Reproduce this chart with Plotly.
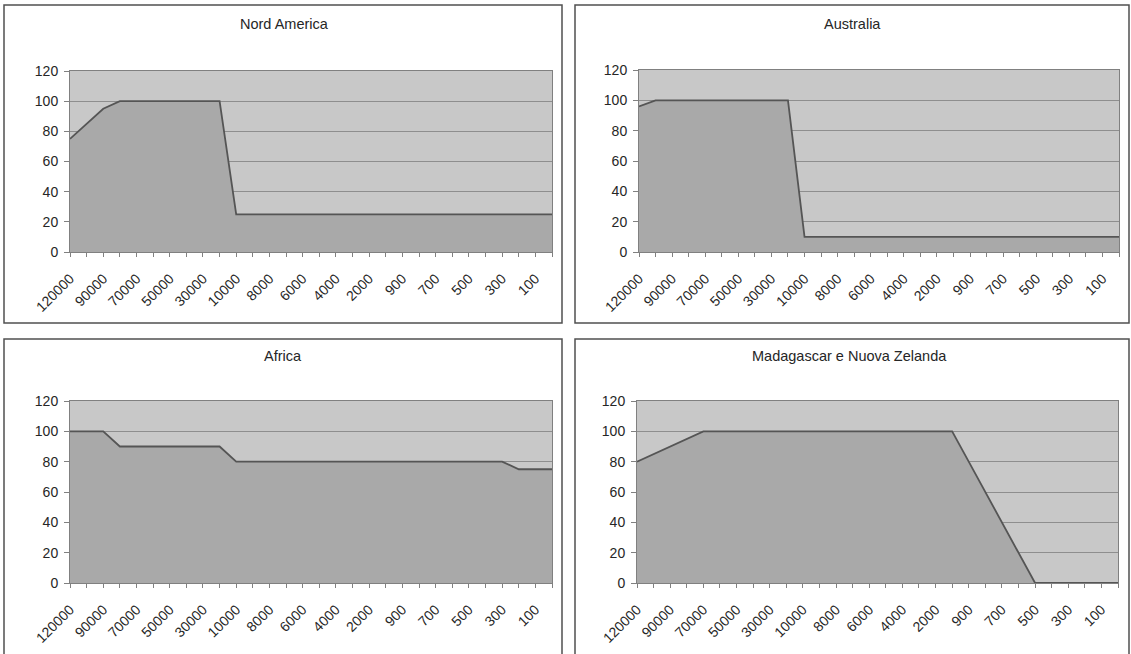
import plotly.graph_objects as go

# ---- data ----
categories = ["120000", "100000", "90000", "80000", "70000", "60000", "50000", "40000",
              "30000", "20000", "10000", "9000", "8000", "7000", "6000", "5000",
              "4000", "3000", "2000", "1000", "900", "800", "700", "600",
              "500", "400", "300", "200", "100", "0"]

titles = ["Nord America", "Australia", "Africa", "Madagascar e Nuova Zelanda"]

nord_america = [75, 85, 95, 100, 100, 100, 100, 100, 100, 100,
                25, 25, 25, 25, 25, 25, 25, 25, 25, 25,
                25, 25, 25, 25, 25, 25, 25, 25, 25, 25]
australia = [96, 100, 100, 100, 100, 100, 100, 100, 100, 100,
             10, 10, 10, 10, 10, 10, 10, 10, 10, 10,
             10, 10, 10, 10, 10, 10, 10, 10, 10, 10]
africa = [100, 100, 100, 90, 90, 90, 90, 90, 90, 90,
          80, 80, 80, 80, 80, 80, 80, 80, 80, 80,
          80, 80, 80, 80, 80, 80, 80, 75, 75, 75]
madagascar_nz = [80, 85, 90, 95, 100, 100, 100, 100, 100, 100,
                 100, 100, 100, 100, 100, 100, 100, 100, 100, 100,
                 80, 60, 40, 20, 0, 0, 0, 0, 0, 0]

series = [nord_america, australia, africa, madagascar_nz]
y_ticks = [0, 20, 40, 60, 80, 100, 120]

# ---- layout helpers (pixels -> paper) ----
W, H = 1131, 654
def px(x):
    return x / W
def py(y):
    return 1 - y / H

plot_boxes = [  # x0, x1, ytop, ybottom in pixels
    (70, 552, 71, 252),
    (639, 1119, 70, 252),
    (70, 552, 401, 583),
    (637, 1118, 401, 583),
]
panel_boxes = [
    (4, 562, 5, 323),
    (575, 1129, 5, 323),
    (4, 562, 339, 700),
    (575, 1129, 339, 700),
]
title_pos = [(284, 24), (852, 24), (283, 356), (850, 356)]

FONT = "Arial, Liberation Sans, sans-serif"
BG = "#c8c8c8"
FILL = "#a9a9a9"
LINE = "#555555"
GRID = "#8e8e8e"
AXIS = "#808080"
TXT = "#262626"

fig = go.Figure()
ticktext = [c if i % 2 == 0 else "" for i, c in enumerate(categories)]

shapes = []
annotations = []
for k in range(4):
    sfx = "" if k == 0 else str(k + 1)
    fig.add_trace(go.Scatter(
        x=categories, y=series[k], xaxis="x" + sfx, yaxis="y" + sfx,
        mode="lines", fill="tozeroy", fillcolor=FILL,
        line=dict(color=LINE, width=1.8), showlegend=False, hoverinfo="x+y"))
    x0, x1, yt, yb = plot_boxes[k]
    fig.layout["xaxis" + sfx] = dict(
        domain=[px(x0), px(x1)], anchor="y" + sfx, type="category",
        categoryorder="array", categoryarray=categories,
        range=[0, len(categories) - 1], automargin=False,
        tickmode="array", tickvals=categories, ticktext=ticktext,
        tickangle=-45, ticks="outside", ticklen=4, tickcolor=AXIS,
        ticklabelstandoff=8,
        showline=True, linecolor=AXIS, linewidth=1, mirror=True,
        showgrid=False, zeroline=False,
        tickfont=dict(family=FONT, size=14, color=TXT))
    fig.layout["yaxis" + sfx] = dict(
        domain=[py(yb), py(yt)], anchor="x" + sfx, range=[0, 120],
        automargin=False,
        tickmode="array", tickvals=y_ticks, ticks="outside", ticklen=5,
        ticklabelstandoff=3,
        tickcolor=AXIS, showline=True, linecolor=AXIS, linewidth=1, mirror=True,
        showgrid=True, gridcolor=GRID, gridwidth=1, zeroline=False,
        tickfont=dict(family=FONT, size=14, color=TXT))
    bx0, bx1, byt, byb = panel_boxes[k]
    shapes.append(dict(type="rect", xref="paper", yref="paper",
                       x0=px(bx0), x1=px(bx1), y0=py(byb), y1=py(byt),
                       line=dict(color="#505050", width=1.5), fillcolor="rgba(0,0,0,0)",
                       layer="below"))
    tx, ty = title_pos[k]
    annotations.append(dict(text=titles[k], xref="paper", yref="paper",
                            x=px(tx), y=py(ty), xanchor="center", yanchor="middle",
                            showarrow=False,
                            font=dict(family=FONT, size=14.5, color=TXT)))

fig.update_layout(
    width=W, height=H, margin=dict(l=0, r=0, t=0, b=0, autoexpand=False),
    paper_bgcolor="white", plot_bgcolor=BG,
    shapes=shapes, annotations=annotations)

fig.write_html("out.html", config={"displayModeBar": False},
               post_script="document.body.style.margin='0';document.body.style.overflow='hidden';")
